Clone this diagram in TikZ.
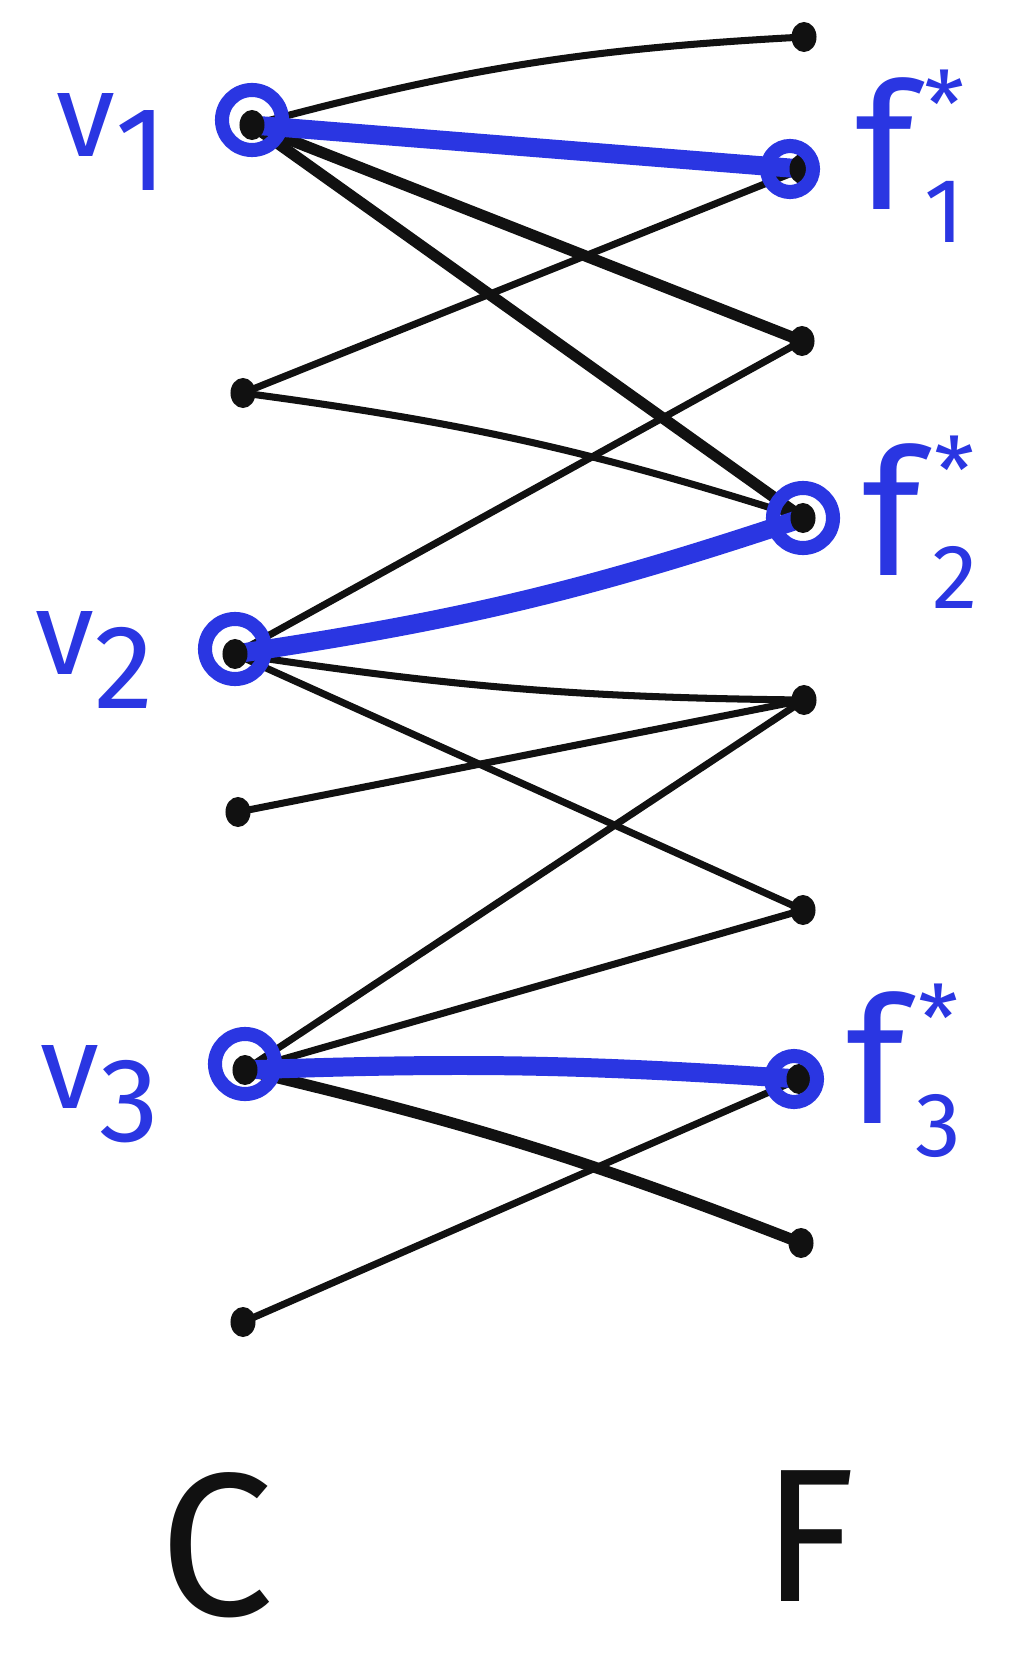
\documentclass[tikz,border=0pt]{standalone}
\usepackage{fontspec}
\setsansfont{Fira Sans}
\usepackage{tikz}
\usepackage{xcolor}
\usetikzlibrary{positioning, backgrounds, shapes.geometric}
\definecolor{cInk}  {HTML}{111111}
\definecolor{cPick} {HTML}{2A36E2}
\newcommand{\vlab}[1]{v\raisebox{-0.28em}{#1}}
\newcommand{\flab}[1]{f\hspace{3pt}\raisebox{5pt}{\fontsize{26}{26}\selectfont\begin{tabular}[c]{@{}c@{}}*\\[4pt]#1\end{tabular}}}

\begin{document}
\begin{tikzpicture}[x=0.01cm, y=-0.01cm,
    dot/.style={ellipse, fill=cInk, inner sep=0pt, minimum width=0.25cm, minimum height=0.3cm},
    ring/.style={circle, draw=cPick, line width=4pt, inner sep=0pt, minimum size=0.6cm},
    fring/.style={ring, minimum size=0.46cm},
    edge/.style={cInk, line width=2pt, line cap=round},
    heavy/.style={cInk, line width=3.2pt, line cap=round},
    match/.style={cPick, line width=5.4pt, line cap=round},
    lab/.style={text=cPick, font=\sffamily\fontsize{34}{34}\selectfont},
    flabel/.style={text=cPick, font=\sffamily\fontsize{50}{50}\selectfont},
    side/.style={text=cInk, inner sep=0pt, font=\sffamily\fontsize{58}{58}\selectfont}]
  \useasboundingbox (0,0) rectangle (1026,1658);

  % clients
  \node[dot] (v1) at (252,125) {};
  \node[dot] (c2) at (243,393) {};
  \node[dot] (v2) at (235,654) {};
  \node[dot] (c4) at (238,812) {};
  \node[dot] (v3) at (245,1070) {};
  \node[dot] (c6) at (243,1322) {};

  % facilities
  \node[dot] (f0)  at (804,37) {};
  \node[dot] (f1s) at (802,169) {};
  \node[dot] (f2)  at (802,341) {};
  \node[dot] (f2s) at (803,518) {};
  \node[dot] (f4)  at (804,700) {};
  \node[dot] (f5)  at (803,910) {};
  \node[dot] (f3s) at (799,1079) {};
  \node[dot] (f7)  at (801,1243) {};

  \begin{scope}[on background layer]
    \draw[edge] (v1.center) to[bend left=6] (f0.center);
    \draw[heavy] (v1.center) -- (f2.center);
    \draw[heavy] (v1.center) -- (f2s.center);
    \draw[edge] (c2.center) -- (f1s.center);
    \draw[edge] (c2.center) to[bend left=5] (f2s.center);
    \draw[edge] (v2.center) -- (f2.center);
    \draw[edge] (v2.center) to[bend right=4] (f4.center);
    \draw[edge] (v2.center) -- (f5.center);
    \draw[edge] (c4.center) -- (f4.center);
    \draw[edge] (v3.center) -- (f4.center);
    \draw[edge] (v3.center) -- (f5.center);
    \draw[heavy] (v3.center) to[bend left=4] (f7.center);
    \draw[edge] (c6.center) -- (f3s.center);
    \draw[match] (v1.center) -- (f1s.center);
    \draw[match] (v2.center) to[bend right=5] (f2s.center);
    \draw[match] (v3.center) to[bend left=3] (f3s.center);
  \end{scope}

  \node[ring] (v1ring) at ([yshift=0.05cm]v1) {};
  \node[ring] (v2ring) at ([yshift=0.05cm]v2) {};
  \node[ring] (v3ring) at ([yshift=0.06cm]v3) {};
  \node[fring] (f1sring) at ([xshift=-0.12cm]f1s) {};
  \node[ring] (f2sring) at (f2s) {};
  \node[fring] (f3sring) at ([xshift=-0.05cm]f3s) {};

  \node[lab] (v1lab) at (112,142) {\vlab{1}};
  \node[lab] (v2lab) at (95,660) {\vlab{2}};
  \node[lab] (v3lab) at (100,1094) {\vlab{3}};
  \node[flabel] (f1lab) at (910,170) {\flab{1}};
  \node[flabel] (f2lab) at (920,536) {\flab{2}};
  \node[flabel] (f3lab) at (904,1084) {\flab{3}};

  \node[side] (Clab) at (217,1545) {C};
  \node[side, font=\sffamily\fontsize{54}{54}\selectfont] (Flab) at (809,1536) {F};
\end{tikzpicture}
\end{document}
